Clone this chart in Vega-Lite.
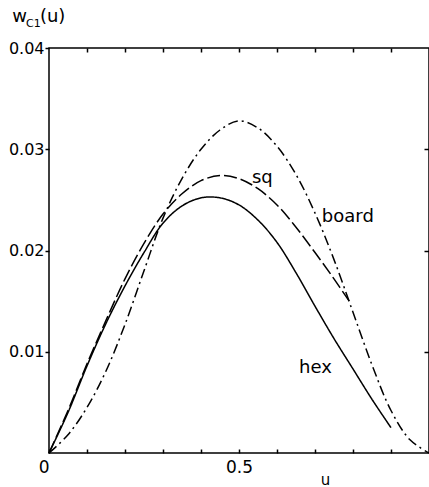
{
  "$schema": "https://vega.github.io/schema/vega-lite/v6.json",
  "width": 380,
  "height": 405,
  "autosize": {"type": "none"},
  "padding": {"left": 49, "top": 48, "right": 0, "bottom": 34},
  "background": "white",
  "config": {"view": {"stroke": "black", "strokeWidth": 1.5}, "font": "DejaVu Sans"},
  "datasets": {
    "curves": [
      {"lattice": "hex", "u": 0, "w": 0},
      {"lattice": "hex", "u": 0.05, "w": 0.0040},
      {"lattice": "hex", "u": 0.1, "w": 0.0086},
      {"lattice": "hex", "u": 0.15, "w": 0.0128},
      {"lattice": "hex", "u": 0.2, "w": 0.0165},
      {"lattice": "hex", "u": 0.25, "w": 0.0198},
      {"lattice": "hex", "u": 0.3, "w": 0.0227},
      {"lattice": "hex", "u": 0.35, "w": 0.0244},
      {"lattice": "hex", "u": 0.4, "w": 0.0252},
      {"lattice": "hex", "u": 0.45, "w": 0.0252},
      {"lattice": "hex", "u": 0.5, "w": 0.0245},
      {"lattice": "hex", "u": 0.55, "w": 0.0230},
      {"lattice": "hex", "u": 0.6, "w": 0.0208},
      {"lattice": "hex", "u": 0.65, "w": 0.0178},
      {"lattice": "hex", "u": 0.7, "w": 0.0145},
      {"lattice": "hex", "u": 0.75, "w": 0.0113},
      {"lattice": "hex", "u": 0.8, "w": 0.0083},
      {"lattice": "hex", "u": 0.85, "w": 0.0053},
      {"lattice": "hex", "u": 0.9, "w": 0.0025},
      {"lattice": "sq", "u": 0, "w": 0},
      {"lattice": "sq", "u": 0.05, "w": 0.0042},
      {"lattice": "sq", "u": 0.1, "w": 0.0088},
      {"lattice": "sq", "u": 0.15, "w": 0.0131},
      {"lattice": "sq", "u": 0.2, "w": 0.0172},
      {"lattice": "sq", "u": 0.25, "w": 0.0207},
      {"lattice": "sq", "u": 0.3, "w": 0.0236},
      {"lattice": "sq", "u": 0.35, "w": 0.0256},
      {"lattice": "sq", "u": 0.4, "w": 0.0269},
      {"lattice": "sq", "u": 0.45, "w": 0.0274},
      {"lattice": "sq", "u": 0.5, "w": 0.0271},
      {"lattice": "sq", "u": 0.55, "w": 0.0261},
      {"lattice": "sq", "u": 0.6, "w": 0.0245},
      {"lattice": "sq", "u": 0.65, "w": 0.0223},
      {"lattice": "sq", "u": 0.7, "w": 0.0198},
      {"lattice": "sq", "u": 0.75, "w": 0.0172},
      {"lattice": "sq", "u": 0.79, "w": 0.0150},
      {"lattice": "board", "u": 0, "w": 0},
      {"lattice": "board", "u": 0.05, "w": 0.0018},
      {"lattice": "board", "u": 0.1, "w": 0.0045},
      {"lattice": "board", "u": 0.15, "w": 0.0081},
      {"lattice": "board", "u": 0.2, "w": 0.0127},
      {"lattice": "board", "u": 0.25, "w": 0.0180},
      {"lattice": "board", "u": 0.3, "w": 0.0232},
      {"lattice": "board", "u": 0.35, "w": 0.0271},
      {"lattice": "board", "u": 0.4, "w": 0.0300},
      {"lattice": "board", "u": 0.45, "w": 0.0319},
      {"lattice": "board", "u": 0.5, "w": 0.0328},
      {"lattice": "board", "u": 0.55, "w": 0.0321},
      {"lattice": "board", "u": 0.6, "w": 0.0303},
      {"lattice": "board", "u": 0.65, "w": 0.0275},
      {"lattice": "board", "u": 0.7, "w": 0.0237},
      {"lattice": "board", "u": 0.75, "w": 0.0191},
      {"lattice": "board", "u": 0.8, "w": 0.0139},
      {"lattice": "board", "u": 0.85, "w": 0.0087},
      {"lattice": "board", "u": 0.9, "w": 0.0042},
      {"lattice": "board", "u": 0.95, "w": 0.0013},
      {"lattice": "board", "u": 1.0, "w": 0}
    ],
    "labels": [
      {"u": 0.534, "w": 0.0272, "t": "sq"},
      {"u": 0.718, "w": 0.0233, "t": "board"},
      {"u": 0.658, "w": 0.0084, "t": "hex"},
      {"u": -0.097, "w": 0.0431, "t": "w"},
      {"u": -0.024, "w": 0.0431, "t": "(u)"}
    ],
    "sub": [
      {"u": -0.0605, "w": 0.0424, "t": "C1"}
    ]
  },
  "layer": [
    {
      "data": {"name": "curves"},
      "mark": {"type": "line", "color": "black", "strokeWidth": 1.5, "interpolate": "catmull-rom"},
      "encoding": {
        "x": {"field": "u", "type": "quantitative", "scale": {"domain": [0, 1], "nice": false},
          "axis": {"orient": "bottom", "values": [0, 0.1, 0.2, 0.3, 0.4, 0.5, 0.6, 0.7, 0.8, 0.9], "tickSize": -4, "tickWidth": 1.5, "tickColor": "black", "domain": false, "grid": false,
            "labelExpr": "datum.value == 0 ? '0' : (datum.value == 0.5 ? '0.5' : '')",
            "labelAlign": {"condition": {"test": "datum.value == 0", "value": "right"}, "value": "center"},
            "labelFontSize": 17, "labelColor": "black", "labelPadding": 10, "labelBaseline": "top",
            "title": "u", "titleFontSize": 15, "titleFontWeight": "normal", "titleColor": "black", "titleX": 276, "titleY": 19, "titleBaseline": "top"}},
        "y": {"field": "w", "type": "quantitative", "scale": {"domain": [0, 0.04], "nice": false},
          "axis": {"orient": "left", "values": [0.01, 0.02, 0.03, 0.04], "format": ".2f", "tickSize": 4, "tickWidth": 1.5, "tickColor": "black", "domain": false, "grid": false,
            "labelFontSize": 16, "labelColor": "black", "labelPadding": 1, "title": null}},
        "detail": {"field": "lattice"},
        "strokeDash": {"field": "lattice", "type": "nominal", "scale": {"domain": ["hex", "sq", "board"], "range": [[1, 0], [13, 4], [10, 4, 2, 4]]}, "legend": null}
      }
    },
    {
      "data": {"name": "labels"},
      "mark": {"type": "text", "fontSize": 18, "align": "left", "baseline": "middle", "color": "black"},
      "encoding": {
        "x": {"field": "u", "type": "quantitative", "scale": {"domain": [0, 1], "nice": false},
          "axis": {"orient": "top", "values": [0.1, 0.2, 0.3, 0.4, 0.5, 0.6, 0.7, 0.8, 0.9], "tickSize": -4, "tickWidth": 1.5, "tickColor": "black", "domain": false, "grid": false, "labels": false, "title": null}},
        "y": {"field": "w", "type": "quantitative", "scale": {"domain": [0, 0.04], "nice": false},
          "axis": {"orient": "right", "values": [0.01, 0.02, 0.03], "tickSize": -5, "tickWidth": 1.5, "tickColor": "black", "domain": false, "grid": false, "labels": false, "title": null}},
        "text": {"field": "t"}
      }
    },
    {
      "data": {"name": "sub"},
      "mark": {"type": "text", "fontSize": 11, "align": "left", "baseline": "middle", "color": "black"},
      "encoding": {
        "x": {"field": "u", "type": "quantitative", "scale": {"domain": [0, 1], "nice": false}, "axis": null},
        "y": {"field": "w", "type": "quantitative", "scale": {"domain": [0, 0.04], "nice": false}, "axis": null},
        "text": {"field": "t"}
      }
    }
  ],
  "resolve": {"scale": {"x": "independent", "y": "independent"}}
}
